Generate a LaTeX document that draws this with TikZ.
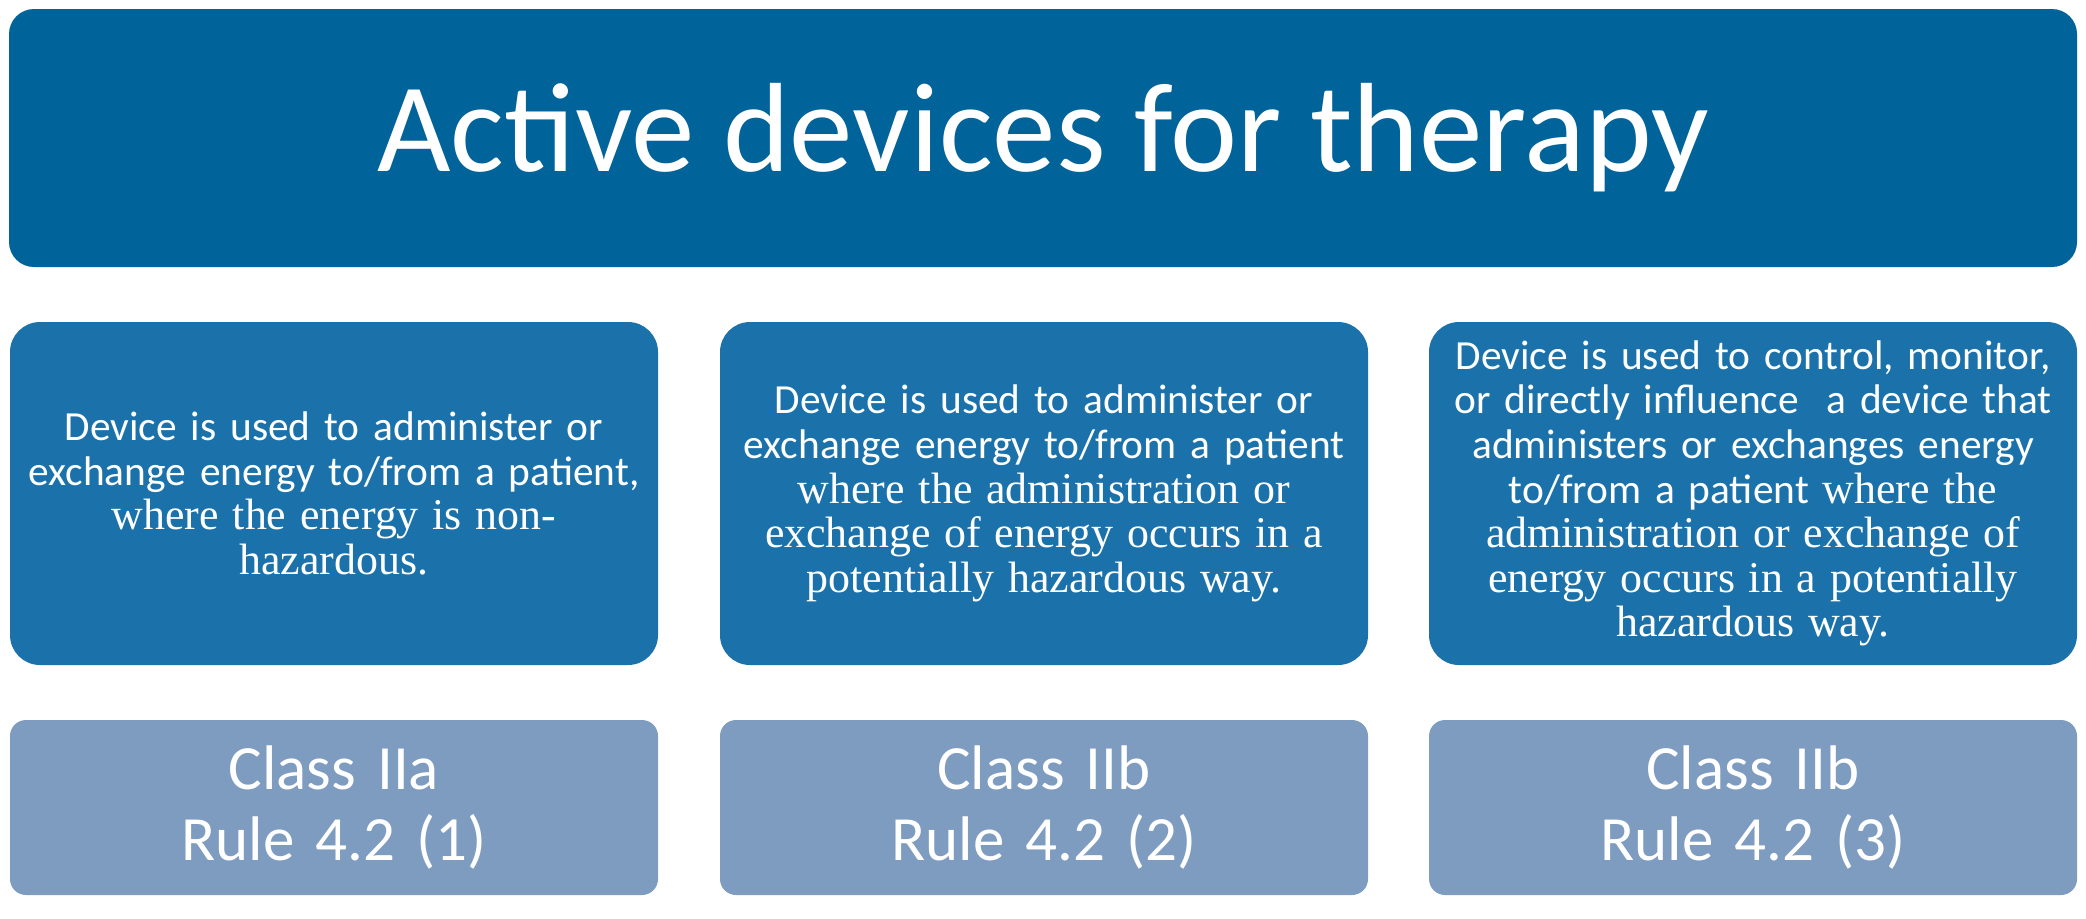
\documentclass[tikz,border=0pt]{standalone}
\usepackage{fontspec}
\setmainfont{Carlito}
\newfontfamily\cambria[Scale=1.06]{Liberation Serif}
\definecolor{titleblue}{RGB}{0,99,154}
\definecolor{midblue}{RGB}{27,114,170}
\definecolor{greyblue}{RGB}{125,156,192}
\tikzset{
  titlebox/.style={fill=titleblue, rounded corners=12.5pt, minimum width=1034pt,
    minimum height=129pt, text=white, font=\fontsize{63.5}{70}\selectfont},
  rulebox/.style={fill=midblue, rounded corners=15pt, minimum width=324pt,
    minimum height=171.5pt, text=white, text width=318pt, align=center, inner sep=0pt,
    font=\fontsize{20.7}{22.3}\selectfont},
  classbox/.style={fill=greyblue, rounded corners=8pt, minimum width=324pt,
    minimum height=87.5pt, text=white, text width=316pt, align=center, inner sep=0pt,
    font=\fontsize{31.5}{35.5}\selectfont}
}
\begin{document}
\begin{tikzpicture}[x=0.5pt,y=-0.5pt]
  \useasboundingbox (0,0) rectangle (2086,918);
  \node[titlebox] (title) at (1043,138) {Active devices for therapy};
  \node[rulebox] (d1) at (334,493.5) {Device is used to administer or\\
    exchange energy to/from a patient,\\
    {\cambria where the energy is non-\\hazardous.}};
  \node[rulebox] (d2) at (1044,493.5) {Device is used to administer or\\
    exchange energy to/from a patient\\
    {\cambria where the administration or\\
    exchange of energy occurs in a\\
    potentially hazardous way.}};
  \node[rulebox] (d3) at (1753,493.5) {Device is used to control, monitor,\\
    or directly influence~ a device that\\
    administers or exchanges energy\\
    to/from a patient {\cambria where the\\
    administration or exchange of\\
    energy occurs in a potentially\\
    hazardous way.}};
  \node[classbox] (c1) at (334,807.5) {Class IIa\\Rule 4.2 (1)};
  \node[classbox] (c2) at (1044,807.5) {Class IIb\\Rule 4.2 (2)};
  \node[classbox] (c3) at (1753,807.5) {Class IIb\\Rule 4.2 (3)};
\end{tikzpicture}
\end{document}
